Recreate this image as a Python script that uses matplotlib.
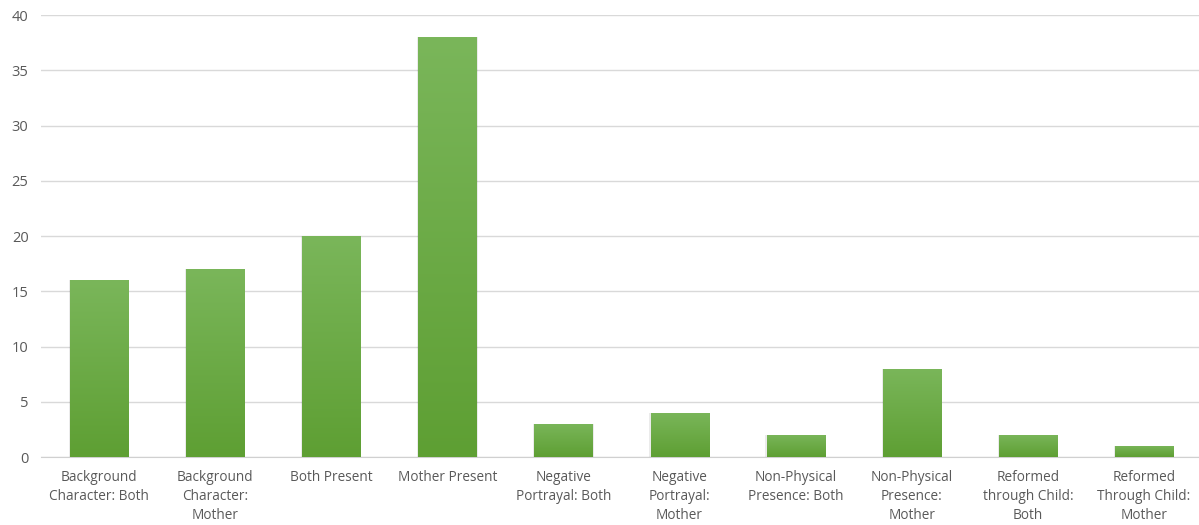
import numpy as np
import matplotlib.pyplot as plt
from matplotlib.colors import LinearSegmentedColormap

categories = ["Background\nCharacter: Both", "Background\nCharacter:\nMother", "Both Present",
              "Mother Present", "Negative\nPortrayal: Both", "Negative\nPortrayal:\nMother",
              "Non-Physical\nPresence: Both", "Non-Physical\nPresence:\nMother",
              "Reformed\nthrough Child:\nBoth", "Reformed\nThrough Child:\nMother"]
counts = [16, 17, 20, 38, 3, 4, 2, 8, 2, 1]
yticks = [0, 5, 10, 15, 20, 25, 30, 35, 40]

plt.rcParams['font.family'] = ['Open Sans', 'DejaVu Sans']

fig = plt.figure(figsize=(11.99, 5.25), dpi=100)
ax = fig.add_axes([0.0342, 0.1295, 0.9658, 0.8419])

x = np.arange(len(categories))
bars = ax.bar(x, counts, width=0.50, color='none', zorder=3)

cmap = LinearSegmentedColormap.from_list('g', ['#5e9f33', '#7ab65a'])
grad = np.linspace(0, 1, 256).reshape(-1, 1)
for b in bars:
    x0, w, h = b.get_x(), b.get_width(), b.get_height()
    # soft shadow
    ax.bar(x0 + w / 2, h, width=w + 0.02, color='#000000', alpha=0.08, zorder=2)
    im = ax.imshow(grad, cmap=cmap, aspect='auto', origin='lower',
                   extent=[x0, x0 + w, 0, h], zorder=3)
    im.set_clip_path(b)

ax.set_xlim(-0.5, 9.474)
ax.set_ylim(0, 40)
ax.set_yticks(yticks)
ax.set_xticks(x)
ax.set_xticklabels(categories, fontsize=9.8, color='#595959', linespacing=1.38)
ax.tick_params(axis='y', labelsize=10.5, labelcolor='#595959', length=0, pad=9)
ax.tick_params(axis='x', length=0, pad=9)

ax.grid(axis='y', color='#d9d9d9', linewidth=1, zorder=0)
ax.set_axisbelow(True)
for s in ['top', 'right', 'left']:
    ax.spines[s].set_visible(False)
ax.spines['bottom'].set_color('#d0d0d0')

fig.savefig('out.png', dpi=100)
